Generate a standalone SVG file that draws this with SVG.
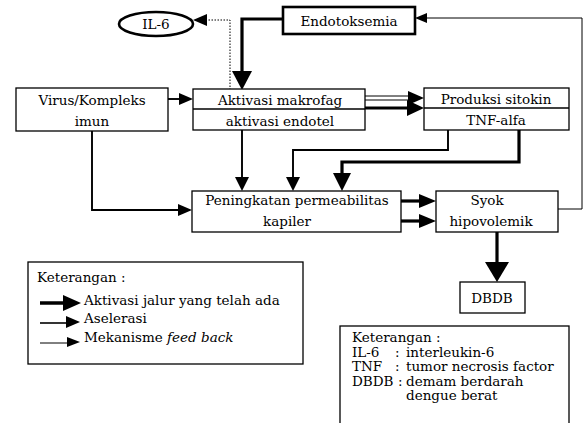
<svg xmlns="http://www.w3.org/2000/svg" width="587" height="423" viewBox="0 0 587 423">
<defs>
<style>
text{font-family:"DejaVu Serif","Liberation Serif",serif;font-size:13.5px;fill:#000}
.c{text-anchor:middle}
.box{fill:#fff;stroke:#000;stroke-width:1.3}
.bold{fill:#fff;stroke:#000;stroke-width:2.6}
.thin{fill:none;stroke:#000;stroke-width:1}
.med{fill:none;stroke:#000;stroke-width:1.9}
.thick{fill:none;stroke:#000;stroke-width:3.2}
.dot{fill:none;stroke:#000;stroke-width:1;stroke-dasharray:1.5 1.5}
.head{fill:#000}
</style>
</defs>
<rect width="587" height="423" fill="#fff"/>
<g id="connectors">
<polyline class="dot" points="230,90 230,20 205,20"/>
<polygon class="head" points="193,20 207,14 207,26"/>
<polyline class="thick" points="283,19 242,19 242,74"/>
<polygon class="head" points="242,90 232,71 252,71"/>
<line class="med" x1="168" y1="99" x2="181" y2="99"/>
<polygon class="head" points="193,99 179,93 179,105"/>
<line class="thin" x1="365" y1="96" x2="412" y2="96"/>
<line class="thin" x1="365" y1="100" x2="412" y2="100"/>
<polygon class="head" points="424,98 408,91 408,105"/>
<line class="thick" x1="365" y1="108" x2="410" y2="108"/>
<polygon class="head" points="424,108 407,100 407,116"/>
<polyline class="med" points="92,131 92,210 180,210"/>
<polygon class="head" points="192,210 178,204 178,216"/>
<line class="med" x1="242" y1="130" x2="242" y2="180"/>
<polygon class="head" points="242,191 235,177 249,177"/>
<polyline class="med" points="448,130 448,150 293,150 293,180"/>
<polygon class="head" points="293,191 286,177 300,177"/>
<polyline class="thick" points="519,130 519,162 342,162 342,176"/>
<polygon class="head" points="342,191 333,173 351,173"/>
<line class="thick" x1="401" y1="201" x2="422" y2="201"/>
<polygon class="head" points="436,201 419,194 419,208"/>
<line class="thick" x1="401" y1="221" x2="422" y2="221"/>
<polygon class="head" points="436,221 419,214 419,228"/>
<polyline class="thin" points="558,209 582,209 582,18 425,18"/>
<polygon class="head" points="415,18 427,13 427,23"/>
<line class="thick" x1="497" y1="232" x2="497" y2="265"/>
<polygon class="head" points="497,282 485,262 509,262"/>
</g>
<g id="il6">
<ellipse cx="156" cy="24" rx="37" ry="12" fill="#fff" stroke="#000" stroke-width="2.6"/>
<text class="c" x="156" y="29">IL-6</text>
</g>
<g id="endotoksemia">
<rect class="bold" x="283" y="7" width="132" height="27"/>
<text class="c" x="349" y="25.5">Endotoksemia</text>
</g>
<g id="virus">
<rect class="box" x="16" y="88" width="152" height="43"/>
<text class="c" x="92" y="105">Virus/Kompleks</text>
<text class="c" x="92" y="126">imun</text>
</g>
<g id="aktivasi">
<rect class="box" x="193" y="89" width="172" height="41"/>
<line class="box" x1="193" y1="109" x2="365" y2="109"/>
<text class="c" x="280" y="104.5">Aktivasi makrofag</text>
<text class="c" x="280" y="125.5">aktivasi endotel</text>
</g>
<g id="produksi">
<rect class="box" x="424" y="88" width="145" height="42"/>
<line class="box" x1="424" y1="108" x2="569" y2="108"/>
<text class="c" x="496" y="103.5">Produksi sitokin</text>
<text class="c" x="496" y="124.5">TNF-alfa</text>
</g>
<g id="peningkatan">
<rect class="box" x="192" y="191" width="209" height="41"/>
<text class="c" x="297" y="205">Peningkatan permeabilitas</text>
<text class="c" x="287" y="226">kapiler</text>
</g>
<g id="syok">
<rect class="box" x="436" y="191" width="122" height="41"/>
<text class="c" x="487" y="205">Syok</text>
<text class="c" x="491" y="226">hipovolemik</text>
</g>
<g id="dbdb">
<rect class="box" x="460" y="282" width="65" height="31"/>
<text class="c" x="492" y="302.5">DBDB</text>
</g>
<g id="legend1">
<rect class="box" x="28" y="262" width="275" height="102"/>
<text x="37" y="282">Keterangan  :</text>
<line x1="40" y1="303" x2="66" y2="303" stroke="#000" stroke-width="3.5"/>
<polygon class="head" points="81,303 63,295 63,311"/>
<text x="84" y="305">Aktivasi jalur yang telah ada</text>
<line x1="40" y1="323" x2="68" y2="323" stroke="#000" stroke-width="1.6"/>
<polygon class="head" points="80,322 66,316 66,328"/>
<text x="84" y="323">Aselerasi</text>
<line x1="40" y1="343" x2="69" y2="343" stroke="#000" stroke-width="1"/>
<polygon class="head" points="80,342 67,337 67,347"/>
<text x="84" y="342">Mekanisme <tspan font-style="italic">feed back</tspan></text>
</g>
<g id="legend2">
<rect class="box" x="340" y="326" width="229" height="106"/>
<text x="352" y="342">Keterangan :</text>
<text x="352" y="356.5">IL-6</text>
<text x="395" y="356.5">:</text>
<text x="406" y="356.5">interleukin-6</text>
<text x="352" y="371">TNF</text>
<text x="395" y="371">:</text>
<text x="406" y="371">tumor necrosis factor</text>
<text x="352" y="385.5">DBDB</text>
<text x="398" y="385.5">:</text>
<text x="406" y="385.5">demam berdarah</text>
<text x="406" y="400">dengue berat</text>
</g>
</svg>
